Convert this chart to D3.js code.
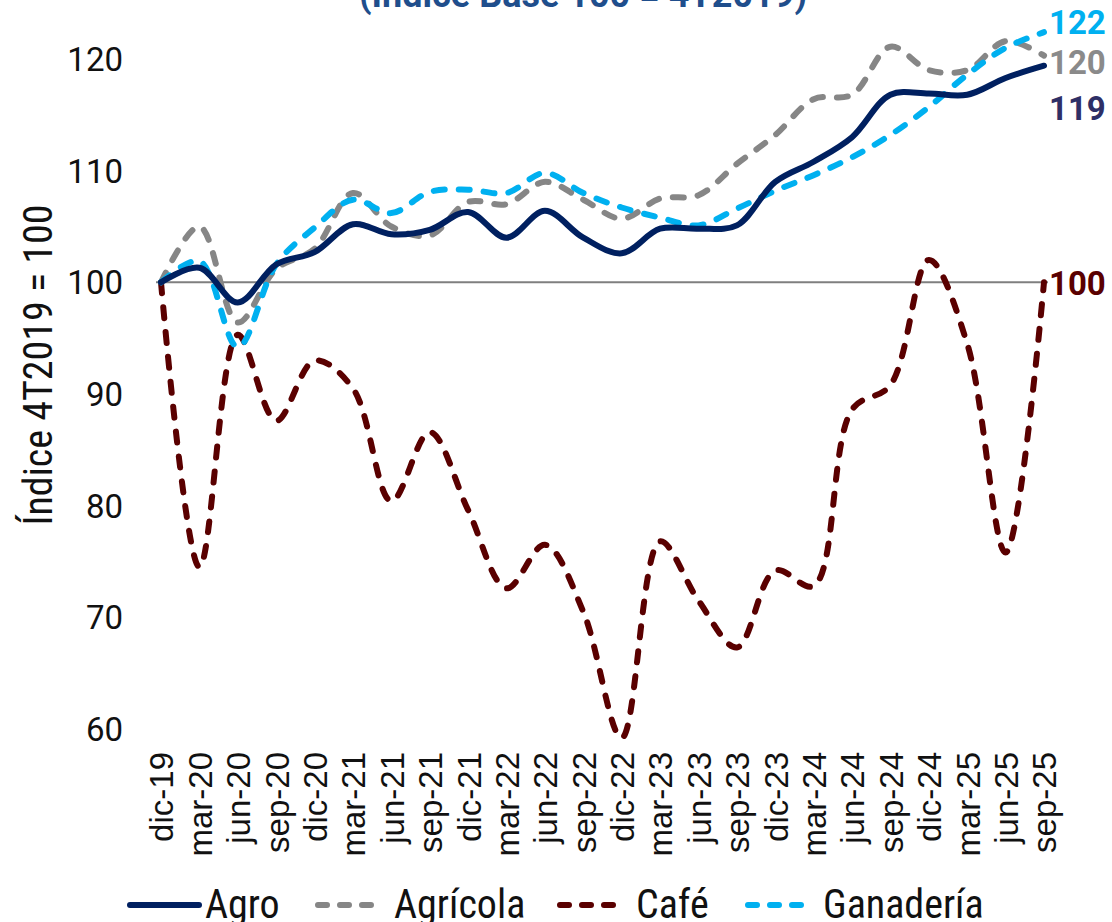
<!DOCTYPE html>
<html>
<head>
<meta charset="utf-8">
<script src="https://cdn.jsdelivr.net/npm/d3@7"></script>
<style>
html,body{margin:0;padding:0;background:#fff;}
svg{display:block;}
</style>
</head>
<body>
<svg id="chart" width="1112" height="922"></svg>
<script>
const categories = ["dic-19","mar-20","jun-20","sep-20","dic-20","mar-21","jun-21","sep-21","dic-21","mar-22","jun-22","sep-22","dic-22","mar-23","jun-23","sep-23","dic-23","mar-24","jun-24","sep-24","dic-24","mar-25","jun-25","sep-25"];
const agro      = [100,101.3,98.2,101.6,102.7,105.2,104.3,104.7,106.3,104.0,106.4,104.0,102.6,104.8,104.8,105.1,109.0,110.8,113.0,116.8,116.9,116.8,118.3,119.4];
const agricola  = [100,105.0,96.4,101.2,103.0,108.0,105.0,104.2,107.2,107.0,109.0,107.4,105.7,107.5,107.8,110.6,113.2,116.4,116.8,121.1,119.0,119.0,121.6,120.3];
const cafe      = [100,74.5,95.3,87.6,93.0,90.5,80.4,86.6,79.6,72.6,76.5,70.5,59.2,76.8,71.5,67.3,74.2,72.8,88.6,90.8,102.0,94.5,75.8,100];
const ganaderia = [100,101.9,94.2,101.6,104.9,107.4,106.2,108.1,108.3,108.0,109.8,108.0,106.7,105.8,105.1,106.6,108.2,109.6,111.2,113.2,115.7,118.6,121.0,122.4];
const yTicks = [60,70,80,90,100,110,120];
const seriesNames = ["Agro","Agrícola","Café","Ganadería"];
const endLabels = ["119","120","100","122"];
const titleText = "(Índice Base 100 = 4T2019)";
const yTitle = "Índice 4T2019 = 100";

const colors = {"Agro":"#002060","Agrícola":"#868686","Café":"#5a0000","Ganadería":"#00b0f0"};
const labelColors = {"Agro":"#2e2f66","Agrícola":"#8a8a8a","Café":"#5a0000","Ganadería":"#00b0f0"};
const series = [
  {name:"Agro", values:agro, dash:null},
  {name:"Agrícola", values:agricola, dash:"11,14"},
  {name:"Café", values:cafe, dash:"11,14"},
  {name:"Ganadería", values:ganaderia, dash:"11,14"}
];

const svg = d3.select("#chart");
const x = d3.scalePoint().domain(categories).range([161, 1044]);
const y = d3.scaleLinear().domain([60,120]).range([729, 59]);

// title (partially cut at top, as in the reference)
svg.append("text").attr("x", 583).attr("y", 7).attr("text-anchor","middle")
  .attr("font-family","Roboto, sans-serif").attr("font-weight","bold").attr("font-size",36)
  .attr("fill","#1f4e8c").text(titleText);

// y tick labels
const yAxis = d3.axisLeft(y).tickValues(yTicks).tickSize(0).tickPadding(0);
const gy = svg.append("g").attr("transform","translate(123,0)").call(yAxis);
gy.select(".domain").remove();
gy.selectAll("text").attr("font-family","Roboto, sans-serif").attr("font-size",33).attr("fill","#111").attr("dy","0.35em");

// y title
svg.append("text").attr("transform","translate(38,365) rotate(-90)")
  .attr("text-anchor","middle").attr("dy","0.35em")
  .attr("font-family","'Liberation Sans Narrow', 'Roboto Condensed', Roboto, sans-serif")
  .attr("font-size",40).attr("fill","#111").text(yTitle);

// x tick labels
const xAxis = d3.axisBottom(x).tickSize(0).tickPadding(0);
const gx = svg.append("g").attr("transform","translate(0,752)").call(xAxis);
gx.select(".domain").remove();
gx.selectAll("text")
  .attr("font-family","'Liberation Sans', Arial, sans-serif").attr("font-size",33).attr("fill","#111")
  .attr("text-anchor","end").attr("transform","rotate(-90)")
  .attr("x",0).attr("y",0).attr("dy","0.36em");

// reference line at 100
svg.append("line").attr("x1",156).attr("x2",1048).attr("y1",y(100)).attr("y2",y(100))
  .attr("stroke","#7f7f7f").attr("stroke-width",2);

const line = d3.line().x((d,i)=>x(categories[i])).y(d=>y(d)).curve(d3.curveCatmullRom.alpha(0.5));

const drawOrder = ["Café","Agrícola","Ganadería","Agro"];
drawOrder.forEach(n=>{
  const s = series.find(t=>t.name===n);
  svg.append("path").datum(s.values).attr("d",line)
    .attr("fill","none").attr("stroke",colors[s.name]).attr("stroke-width",6)
    .attr("stroke-linecap","round").attr("stroke-linejoin","round")
    .attr("stroke-dasharray",s.dash);
});

// end labels
const endY = {"Ganadería":22,"Agrícola":62,"Agro":108,"Café":283};
series.forEach((s,i)=>{
  svg.append("text").attr("x",1049).attr("y",endY[s.name]).attr("dy","0.36em")
    .attr("font-family","Roboto, sans-serif").attr("font-weight","bold").attr("font-size",33)
    .attr("fill",labelColors[s.name]).text(endLabels[i]);
});

// legend
const legendPos = [
  {l1:130,l2:199,t:205},
  {l1:318,l2:382,t:394},
  {l1:560,l2:624,t:636},
  {l1:748,l2:812,t:823}
];
series.forEach((s,i)=>{
  const p = legendPos[i];
  const g = svg.append("g");
  g.append("line").attr("x1",p.l1).attr("x2",p.l2).attr("y1",905).attr("y2",905)
    .attr("stroke",colors[s.name]).attr("stroke-width",6).attr("stroke-linecap","round")
    .attr("stroke-dasharray", s.dash ? "9,13" : null);
  g.append("text").attr("x",p.t).attr("y",904).attr("dy","0.36em")
    .attr("font-family","'Liberation Sans Narrow', 'Roboto Condensed', Roboto, sans-serif")
    .attr("font-size",40).attr("fill","#111").text(s.name);
});
</script>
</body>
</html>
